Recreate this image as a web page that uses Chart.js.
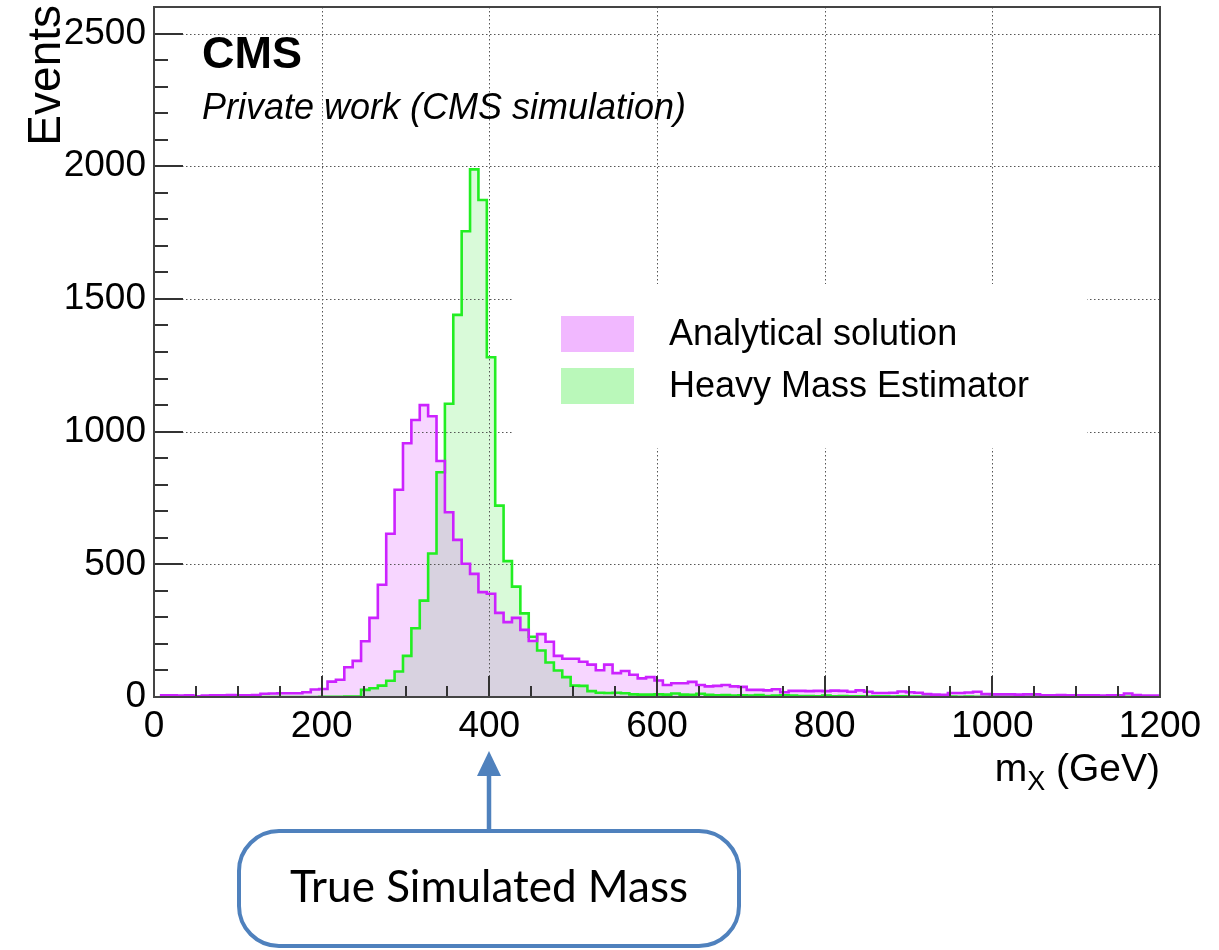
<!DOCTYPE html>
<html>
<head>
<meta charset="utf-8">
<script src="https://cdn.jsdelivr.net/npm/chart.js@4.4.0/dist/chart.umd.min.js"></script>
<style>
  html, body { margin: 0; padding: 0; background: #ffffff; }
  #wrap { width: 1219px; height: 950px; position: relative; }
</style>
</head>
<body>
<div id="wrap"><canvas id="c" width="1219" height="950"></canvas></div>
<script>
// Histogram binning (GeV): 120 bins of 10 GeV
const binLow = 7;
const binWidth = 10;

// Events per bin, analytical solution
const analytical = [
  6, 6, 5, 6, 3, 5, 6, 6, 7, 6,
  6, 7, 12, 13, 14, 14, 14, 18, 28, 30,
  58, 65, 112, 136, 210, 298, 423, 615, 781, 956,
  1044, 1100, 1058, 889, 696, 592, 502, 464, 395, 389,
  317, 282, 298, 253, 211, 237, 208, 155, 144, 144,
  133, 122, 101, 122, 90, 98, 84, 70, 75, 62,
  45, 52, 52, 57, 45, 40, 42, 45, 40, 38,
  27, 27, 25, 29, 18, 23, 23, 22, 23, 22,
  24, 23, 20, 25, 20, 15, 15, 16, 21, 18,
  16, 11, 9, 8, 15, 15, 17, 20, 11, 10,
  10, 10, 9, 10, 10, 6, 6, 7, 6, 6,
  6, 6, 5, 6, 6, 13, 7, 5, 5, 5
];

// Events per bin, Heavy Mass Estimator
const hme = [
  0, 0, 0, 0, 0, 0, 0, 0, 0, 0,
  0, 0, 0, 0, 0, 0, 0, 0, 0, 1,
  1, 1, 2, 2, 27, 33, 43, 61, 96, 155,
  259, 363, 541, 847, 1105, 1440, 1755, 1988, 1873, 1280,
  721, 512, 416, 315, 227, 175, 130, 100, 75, 43,
  42, 22, 16, 15, 16, 14, 10, 9, 9, 10,
  9, 13, 9, 8, 12, 8, 6, 7, 5, 6,
  5, 7, 4, 5, 6, 5, 4, 4, 3, 5,
  3, 4, 3, 3, 2, 3, 3, 2, 3, 2,
  2, 2, 1, 2, 2, 1, 2, 1, 1, 2,
  1, 1, 2, 1, 1, 1, 1, 2, 1, 1,
  1, 1, 1, 1, 1, 1, 1, 1, 1, 1
];

const seriesLabels = ['Analytical solution', 'Heavy Mass Estimator'];
const xTickValues = [0, 200, 400, 600, 800, 1000, 1200];
const yTickValues = [0, 500, 1000, 1500, 2000, 2500];
const xRange = [0, 1200];
const yRange = [0, 2600];
const xMinorStep = 50;
const yMinorStep = 100;
const trueMass = 400;

// Step outline points: each bin edge carries the bin content, closed down to zero
function histPoints(counts) {
  const pts = counts.map((c, i) => ({ x: binLow + i * binWidth, y: c }));
  pts.push({ x: binLow + counts.length * binWidth, y: 0 });
  return pts;
}

const FONT = '"Liberation Sans", Arial, Helvetica, sans-serif';

function isMajor(v, list) { return list.some(t => Math.abs(t - v) < 1e-6); }

const rootStyle = {
  id: 'rootStyle',
  beforeDatasetsDraw(chart) {
    const { ctx, chartArea: a, scales: { x, y } } = chart;
    // dotted grid at the major ticks
    ctx.save();
    ctx.strokeStyle = '#555';
    ctx.lineWidth = 1;
    ctx.setLineDash([1.5, 2.5]);
    ctx.beginPath();
    x.ticks.forEach(t => {
      if (t.value <= x.min || t.value >= x.max) return;
      const px = Math.round(x.getPixelForValue(t.value)) + 0.5;
      ctx.moveTo(px, a.top); ctx.lineTo(px, a.bottom);
    });
    y.ticks.forEach(t => {
      if (t.value <= y.min || t.value >= y.max) return;
      const py = Math.round(y.getPixelForValue(t.value)) + 0.5;
      ctx.moveTo(a.left, py); ctx.lineTo(a.right, py);
    });
    ctx.stroke();
    ctx.restore();

    // legend box
    ctx.save();
    ctx.fillStyle = '#ffffff';
    ctx.fillRect(513, 284, 574, 164);
    const swatches = ['rgba(204,0,255,0.28)', 'rgba(0,230,0,0.27)'];
    const rows = [334, 386];
    ctx.font = '36px ' + FONT;
    ctx.textBaseline = 'middle';
    ctx.textAlign = 'left';
    rows.forEach((cy, i) => {
      ctx.fillStyle = swatches[i];
      ctx.fillRect(561, cy - 18, 73, 36);
      ctx.fillStyle = '#000';
      ctx.fillText(chart.data.datasets[i].label, 669, cy + 1);
    });
    ctx.restore();
  },
  afterDatasetsDraw(chart) {
    const { ctx, chartArea: a, scales: { x, y } } = chart;
    ctx.save();
    // inward ticks
    ctx.strokeStyle = '#333';
    ctx.lineWidth = 2;
    ctx.beginPath();
    for (let v = x.min; v <= x.max + 1e-9; v += xMinorStep) {
      const px = Math.round(x.getPixelForValue(v));
      const len = isMajor(v, xTickValues) ? 21 : 11;
      ctx.moveTo(px, a.bottom); ctx.lineTo(px, a.bottom - len);
    }
    for (let v = y.min; v <= y.max + 1e-9; v += yMinorStep) {
      const py = Math.round(y.getPixelForValue(v));
      const len = isMajor(v, yTickValues) ? 29 : 14;
      ctx.moveTo(a.left, py); ctx.lineTo(a.left + len, py);
    }
    ctx.stroke();
    // frame
    ctx.strokeStyle = '#444';
    ctx.lineWidth = 2;
    ctx.strokeRect(a.left, a.top, a.right - a.left, a.bottom - a.top);
    ctx.restore();
  },
  afterDraw(chart) {
    const { ctx, chartArea: a, scales: { x } } = chart;
    ctx.save();
    ctx.fillStyle = '#000';
    ctx.textBaseline = 'alphabetic';

    // experiment label
    ctx.textAlign = 'left';
    ctx.font = 'bold 45px ' + FONT;
    ctx.fillText('CMS', 202, 68);
    ctx.font = 'italic 36px ' + FONT;
    ctx.fillText('Private work (CMS simulation)', 202, 119);

    // y axis title
    ctx.save();
    ctx.translate(60, a.top - 2);
    ctx.rotate(-Math.PI / 2);
    ctx.textAlign = 'right';
    ctx.font = '46px ' + FONT;
    ctx.fillText('Events', 0, 0);
    ctx.restore();

    // x axis title: m_X (GeV), right aligned to the frame
    const big = '39px ' + FONT, small = '27px ' + FONT;
    ctx.textAlign = 'left';
    ctx.font = big;
    const wTail = ctx.measureText(' (GeV)').width;
    const wM = ctx.measureText('m').width;
    ctx.font = small;
    const wX = ctx.measureText('X').width;
    let xs = a.right - wTail - wX - wM;
    const base = 781;
    ctx.font = big; ctx.fillText('m', xs, base); xs += wM;
    ctx.font = small; ctx.fillText('X', xs, base + 9); xs += wX;
    ctx.font = big; ctx.fillText(' (GeV)', xs, base);

    // callout pointing at the generated mass
    const ax = Math.round(x.getPixelForValue(trueMass));
    const blue = '#4f81bd';
    ctx.strokeStyle = blue;
    ctx.fillStyle = blue;
    ctx.lineWidth = 4.5;
    ctx.beginPath();
    ctx.moveTo(ax, 831); ctx.lineTo(ax, 772);
    ctx.stroke();
    ctx.beginPath();
    ctx.moveTo(ax, 751); ctx.lineTo(ax - 12, 776); ctx.lineTo(ax + 12, 776);
    ctx.closePath();
    ctx.fill();

    const bx = 239, by = 831, bw = 500, bh = 115, r = 40;
    ctx.lineWidth = 4;
    ctx.fillStyle = '#fff';
    ctx.beginPath();
    ctx.moveTo(bx + r, by);
    ctx.arcTo(bx + bw, by, bx + bw, by + bh, r);
    ctx.arcTo(bx + bw, by + bh, bx, by + bh, r);
    ctx.arcTo(bx, by + bh, bx, by, r);
    ctx.arcTo(bx, by, bx + bw, by, r);
    ctx.closePath();
    ctx.fill();
    ctx.stroke();

    ctx.fillStyle = '#000';
    ctx.textAlign = 'center';
    ctx.textBaseline = 'alphabetic';
    ctx.font = '44px Lato, "Open Sans", sans-serif';
    ctx.fillText('True Simulated Mass', ax, 902);
    ctx.restore();
  }
};

new Chart(document.getElementById('c'), {
  type: 'line',
  data: {
    datasets: [
      {
        label: seriesLabels[0],
        data: histPoints(analytical),
        stepped: 'before',
        borderColor: '#cc22ff',
        borderWidth: 2.6,
        backgroundColor: 'rgba(204,0,255,0.16)',
        fill: 'origin',
        pointRadius: 0,
        order: 0
      },
      {
        label: seriesLabels[1],
        data: histPoints(hme),
        stepped: 'before',
        borderColor: '#22ee22',
        borderWidth: 2.6,
        backgroundColor: 'rgba(0,220,0,0.15)',
        fill: 'origin',
        pointRadius: 0,
        order: 1
      }
    ]
  },
  options: {
    responsive: false,
    animation: false,
    devicePixelRatio: 1,
    layout: { padding: { top: 7, right: 59, left: 0, bottom: 0 } },
    plugins: {
      legend: { display: false },
      tooltip: { enabled: false },
      filler: { drawTime: 'beforeDatasetsDraw' }
    },
    scales: {
      x: {
        type: 'linear',
        min: xRange[0], max: xRange[1],
        grid: { display: false },
        border: { display: false },
        afterBuildTicks(s) { s.ticks = xTickValues.map(v => ({ value: v })); },
        ticks: {
          maxRotation: 0,
          autoSkip: false,
          padding: 0,
          color: '#000',
          font: { family: FONT, size: 37 },
          callback: v => String(v)
        },
        afterFit(s) { s.height = 253; s.paddingLeft = 0; s.paddingRight = 0; }
      },
      y: {
        type: 'linear',
        min: yRange[0], max: yRange[1],
        grid: { display: false },
        border: { display: false },
        afterBuildTicks(s) { s.ticks = yTickValues.map(v => ({ value: v })); },
        ticks: {
          autoSkip: false,
          padding: 0,
          color: '#000',
          font: { family: FONT, size: 37 },
          callback: v => String(v)
        },
        afterFit(s) { s.width = 154; s.paddingTop = 0; s.paddingBottom = 0; }
      }
    }
  },
  plugins: [rootStyle]
});
</script>
</body>
</html>
